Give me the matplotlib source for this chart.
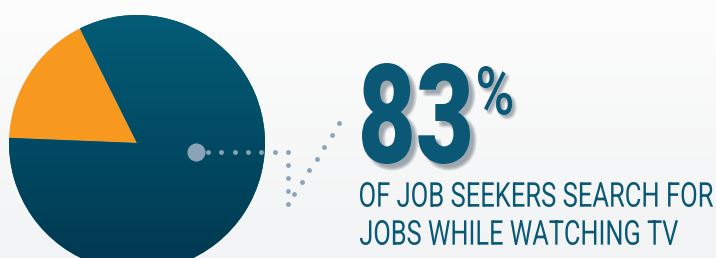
import numpy as np
import matplotlib.pyplot as plt
from matplotlib import patheffects
from matplotlib.colors import LinearSegmentedColormap, to_rgba
from matplotlib.font_manager import FontProperties
from matplotlib.text import Text
from matplotlib.textpath import TextPath
from matplotlib.transforms import Affine2D, Bbox

# Data
shares = [17, 83]
share_colors = ["#f7981f", "#04566f"]
headline = "83"
headline_unit = "%"
caption_lines = ["OF JOB SEEKERS SEARCH FOR", "JOBS WHILE WATCHING TV"]

W, H = 716, 258
text_color = "#0a5876"
dot_color = "#8aa3b7"


class Squeeze(patheffects.AbstractPathEffect):
    """Draw text narrower (condensed look) around x0, with an optional soft shadow."""

    def __init__(self, sx, x0, shadow=None):
        super().__init__()
        self.sx, self.x0, self.shadow = sx, x0, shadow

    def draw_path(self, renderer, gc, tpath, affine, rgbFace=None):
        a = affine + Affine2D().translate(-self.x0, 0).scale(self.sx, 1).translate(self.x0, 0)
        if self.shadow:
            off = self.shadow
            for ddx in (-1.5, 0, 1.5):
                for ddy in (-1.5, 0, 1.5):
                    gc0 = renderer.new_gc()
                    gc0.copy_properties(gc)
                    gc0.set_alpha(0.07)
                    renderer.draw_path(gc0, tpath, a + Affine2D().translate(off + ddx, -off + ddy),
                                       to_rgba("#4a5a66", 1))
                    gc0.restore()
        renderer.draw_path(gc, tpath, a, rgbFace)


class SqueezedText(Text):
    # report the narrowed extent so layout checks see the drawn size
    def __init__(self, *args, sx=1.0, **kwargs):
        super().__init__(*args, **kwargs)
        self._sx = sx

    def get_window_extent(self, renderer=None, dpi=None):
        bb = super().get_window_extent(renderer, dpi)
        x0 = self.get_transform().transform(self.get_position())[0]
        return Bbox([[x0 + (bb.x0 - x0) * self._sx, bb.y0],
                     [x0 + (bb.x1 - x0) * self._sx, bb.y1]])


fig = plt.figure(figsize=(W / 100, H / 100), dpi=100)
ax = fig.add_axes([0, 0, 1, 1])
ax.axis("off")

# soft background
bg = np.linspace(0, 1, 256).reshape(-1, 1)
bg_cmap = LinearSegmentedColormap.from_list("bg", ["#fdfdfd", "#f2f3f4"])
ax.imshow(bg, cmap=bg_cmap, extent=[0, W, 0, H], origin="upper", aspect="auto", zorder=0)

# pie
cx, cy, r = 137, H - 143, 128
wedges, _ = ax.pie(shares, colors=share_colors, startangle=116.5, counterclock=True,
                   center=(cx, cy), radius=r, wedgeprops=dict(linewidth=0))
grad = np.linspace(0, 1, 256).reshape(-1, 1)
blue_cmap = LinearSegmentedColormap.from_list("blue", ["#045c76", "#003850"])
im = ax.imshow(grad, cmap=blue_cmap, extent=[cx - r, cx + r, cy - r, cy + r],
               origin="upper", aspect="auto", zorder=1.5)
im.set_clip_path(wedges[1])

# leader dots
ax.scatter([196], [H - 152], s=170, color=dot_color, linewidths=0, zorder=3)
hx = np.linspace(208, 288, 7)
vy = np.linspace(152, 204, 5)[1:]
dx = np.linspace(294, 339, 7)
dy = np.linspace(194, 123, 7)
lx = np.concatenate([hx, np.full(len(vy), 288), dx])
ly = np.concatenate([np.full(len(hx), 152), vy, dy])
ax.scatter(lx, H - ly, s=12, color=dot_color, linewidths=0, zorder=3)


def place(text, left, right, top, bottom, family, weight, shadow=None):
    # fit the ink of the text into the box (pixel coords, y down)
    fp = FontProperties(family=family, weight=weight, size=100)
    ext = TextPath((0, 0), text, prop=fp).get_extents()
    k = (bottom - top) / ext.height          # px per font unit
    fs = k * 72
    sx = (right - left) / (ext.width * k)
    x0 = left - ext.x0 * k * sx
    base = (H - bottom) - ext.y0 * k
    t = SqueezedText(x0, base, text, sx=sx, fontsize=fs, fontfamily=family,
                     fontweight=weight, color=text_color, ha="left", va="baseline",
                     zorder=4, path_effects=[Squeeze(sx, x0, shadow)],
                     transform=ax.transData)
    ax.add_artist(t)
    return t


place(headline, 362, 470, 63, 164, "Roboto", 900, shadow=5)
place(headline_unit, 478, 512, 66, 115, "Roboto", 500, shadow=3)
place(caption_lines[0], 360, 713, 182, 207, "Roboto", 400)
place(caption_lines[1], 360, 678, 220, 245, "Roboto", 400)

ax.set_xlim(0, W)
ax.set_ylim(0, H)
ax.set_aspect("auto")

fig.savefig("out.png", dpi=100)
